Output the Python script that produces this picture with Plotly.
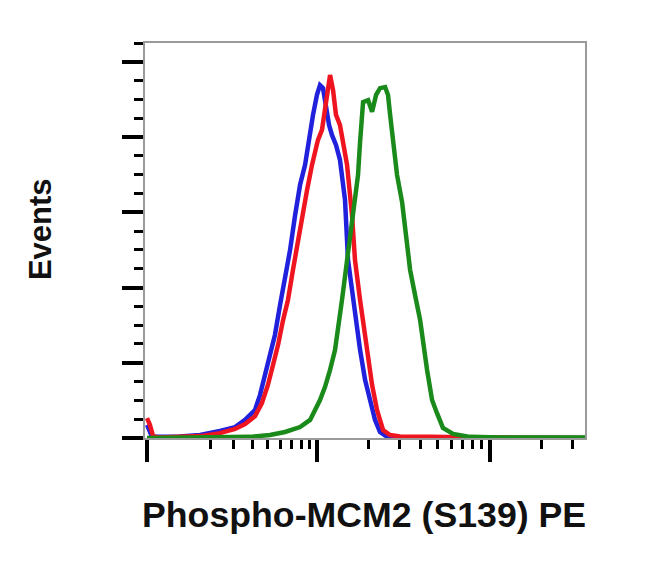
import numpy as np
import plotly.graph_objects as go

# Biexponential-like display transform (asinh) for the fluorescence axis
COF = 210.0
def tf(v):
    return np.arcsinh(np.asarray(v, dtype=float) / COF)

# ---- data (fluorescence intensity, % of max events) ----
blue_x = [0, 14, 95, 161, 237, 306, 358, 416, 448, 482, 518, 556, 598, 641, 688, 738, 790,
          846, 906, 943, 995, 1037, 1080, 1126, 1172, 1220, 1287, 1358, 1414, 1453, 1513,
          1617, 1778, 1902, 2033, 2173, 2322, 2550, 3033, 35500]
blue_y = [3.5, 0.3, 0.4, 0.8, 1.9, 2.9, 4.8, 7.4, 11.4, 16.7, 22.9, 27.4, 35.4, 42.0, 50.0,
          59.3, 67.3, 72.6, 81.9, 85.9, 91.2, 93.8, 93.0, 87.2, 83.2, 80.5, 77.9, 73.9, 68.6,
          63.3, 47.3, 36.7, 23.4, 15.4, 10.1, 4.8, 1.6, 0.3, 0.1, 0.0]

red_x = [0, 8, 17, 36, 95, 161, 237, 306, 358, 416, 461, 503, 541, 581, 624, 668, 716, 768,
         811, 869, 930, 1008, 1065, 1126, 1188, 1237, 1287, 1358, 1414, 1493, 1596, 1661,
         1778, 1954, 2088, 2232, 2419, 2656, 3033, 4520, 8800, 35500]
red_y = [5.3, 3.5, 0.5, 0.1, 0.3, 0.5, 1.3, 2.4, 3.7, 5.8, 9.3, 14.1, 19.4, 24.7, 31.4, 36.7,
         44.7, 52.6, 59.3, 65.9, 72.6, 79.2, 81.9, 89.8, 96.5, 92.5, 85.9, 83.2, 79.2, 72.6,
         59.3, 47.3, 36.7, 23.4, 14.1, 7.4, 2.1, 0.8, 0.4, 0.3, 0.1, 0.0]

green_x = [0, 161, 386, 518, 641, 790, 906, 1037, 1110, 1188, 1270, 1395, 1493, 1596, 1661,
           1730, 1778, 1851, 1980, 2088, 2203, 2322, 2485, 2583, 2656, 2764, 2914, 3116, 3244,
           3467, 3703, 3960, 4345, 4645, 4960, 5370, 6144, 7701, 11470, 35500]
green_y = [0.0, 0.1, 0.3, 0.8, 1.6, 2.9, 4.8, 10.1, 13.6, 18.1, 23.4, 36.7, 47.3, 57.9, 63.3,
           69.9, 78.7, 89.3, 89.8, 86.7, 91.2, 93.0, 93.3, 91.2, 85.9, 77.9, 69.9, 62.7, 56.6,
           44.7, 38.0, 31.4, 18.1, 10.1, 6.6, 2.7, 1.1, 0.3, 0.1, 0.1]

# ---- axis ticks ----
x_major = [0, 1000, 10000]
x_minor = [200, 300, 400, 500, 600, 700, 800, 900,
           2000, 3000, 4000, 5000, 6000, 7000, 8000, 9000, 20000, 30000]
y_major = [0, 20, 40, 60, 80, 100]
y_minor = [5, 10, 15, 25, 30, 35, 45, 50, 55, 65, 70, 75, 85, 90, 95, 105]

x_range = [-5.6, 35500]
y_range = [0, 105]

fig = go.Figure()
for xs, ys, col in [(blue_x, blue_y, "#2020dd"),
                    (red_x, red_y, "#ee1520"),
                    (green_x, green_y, "#1a8a1a")]:
    fig.add_trace(go.Scatter(x=tf(xs), y=ys, mode="lines",
                             line=dict(color=col, width=4.5), hoverinfo="skip",
                             showlegend=False))

fig.update_layout(
    width=650, height=572,
    margin=dict(l=137, r=73, t=35, b=142),
    paper_bgcolor="white", plot_bgcolor="white",
    showlegend=False,
)
fig.update_xaxes(
    range=list(tf(x_range)), tickmode="array", tickvals=list(tf(x_major)),
    ticktext=["" for _ in x_major], ticks="outside", ticklen=22, tickwidth=4,
    tickcolor="black", showgrid=False, zeroline=False,
    showline=True, linecolor="#9a9a9a", linewidth=1.5, mirror=True,
    minor=dict(tickmode="array", tickvals=list(tf(x_minor)), ticks="outside",
               ticklen=9, tickwidth=3, tickcolor="black", showgrid=False),
)
fig.update_yaxes(
    range=y_range, tickmode="array", tickvals=y_major,
    ticktext=["" for _ in y_major], ticks="outside", ticklen=21, tickwidth=4,
    tickcolor="black", showgrid=False, zeroline=False,
    showline=True, linecolor="#9a9a9a", linewidth=1.5, mirror=True,
    minor=dict(tickmode="array", tickvals=y_minor, ticks="outside",
               ticklen=9, tickwidth=3, tickcolor="black", showgrid=False),
)

fig.add_annotation(text="Events", xref="paper", yref="paper", x=-0.2386, y=0.529,
                   xanchor="center", yanchor="middle", textangle=-90, showarrow=False,
                   font=dict(family="Liberation Sans, Arial", size=31, color="#111111",
                             weight="bold"))
fig.add_annotation(text="Phospho-MCM2 (S139) PE", xref="paper", yref="paper",
                   x=0.4977, y=-0.195, xanchor="center", yanchor="middle", showarrow=False,
                   font=dict(family="Liberation Sans, Arial", size=35.7, color="#111111",
                             weight="bold"))

fig.write_html("out.html")
